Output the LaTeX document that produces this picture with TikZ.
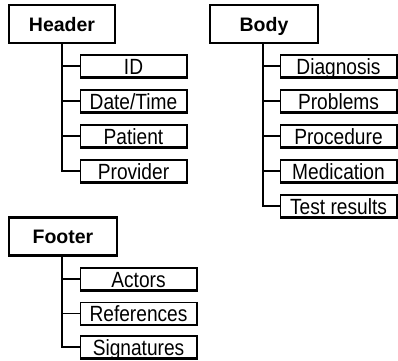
\documentclass[tikz,border=0pt]{standalone}
\usepackage{fontspec}
\setmainfont{Liberation Sans}
\newfontfamily\itemfont[FakeStretch=0.87]{Liberation Sans}
\begin{document}
\begin{tikzpicture}[x=1pt,y=-1pt,
  groupbox/.style={draw, line width=2.4pt, inner sep=0pt, minimum height=38pt,
    font=\bfseries\fontsize{19.5}{19.5}\selectfont, text height=14pt, text depth=0pt},
  itembox/.style={draw, line width=1.2pt, inner sep=0pt, minimum height=22pt,
    font=\itemfont\fontsize{22}{22}\selectfont, text height=16.5pt, text depth=0pt},
  link/.style={line width=1.6pt},
  shadowedge/.style={line width=2.2pt}]
\useasboundingbox (0,0) rectangle (398,360);

% group boxes
\node[groupbox, minimum width=106pt] (hdr) at (62,24)    {Header};
\node[groupbox, minimum width=108pt] (bdy) at (264,24)   {Body};
\node[groupbox, minimum width=108pt] (ftr) at (63,236.5) {Footer};

% trunk positions
\coordinate (ht) at (62,0);
\coordinate (bt) at (263,0);
\coordinate (ft) at (62,0);

% header items
\begin{scope}[every node/.style={itembox, minimum width=106pt}]
\node (id)   at (133.5,66)  {ID};
\node (dt)   at (133.5,101) {Date/Time};
\node (pat)  at (133.5,136) {Patient};
\node (prov) at (133.5,171) {Provider};
\end{scope}

% body items
\begin{scope}[every node/.style={itembox, minimum width=116pt}]
\node (diag) at (338.5,66)  {Diagnosis};
\node (prob) at (338.5,101) {Problems};
\node (proc) at (338.5,136) {Procedure};
\node (med)  at (338.5,171) {Medication};
\node (test) at (338.5,206) {Test results};
\end{scope}

% footer items
\begin{scope}[every node/.style={itembox, minimum width=116pt}]
\node (act) at (138.5,279) {Actors};
\node (ref) at (138.5,313.5) {References};
\node (sig) at (138.5,347) {Signatures};
\end{scope}

% heavier right and bottom edges
\foreach \n in {id,dt,pat,prov,diag,prob,proc,med,test,act,ref,sig}
  \draw[shadowedge] (\n.north east) -- (\n.south east) -- (\n.south west);

% connectors
\foreach \c in {id,dt,pat,prov}
  \draw[link] (hdr.south -| ht) |- (\c.west);
\foreach \c in {diag,prob,proc,med,test}
  \draw[link] (bdy.south -| bt) |- (\c.west);
\foreach \c in {act,ref,sig}
  \draw[link] (ftr.south -| ft) |- (\c.west);
\end{tikzpicture}
\end{document}
